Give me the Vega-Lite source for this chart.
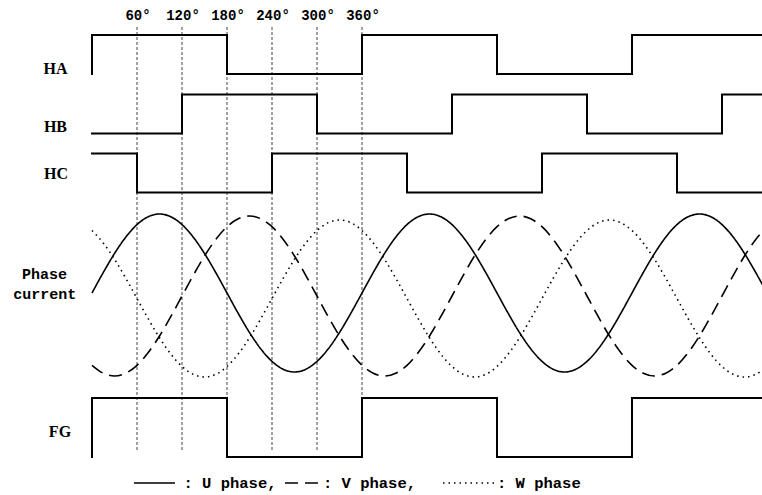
{
  "$schema": "https://vega.github.io/schema/vega-lite/v6.json",
  "width": 762,
  "height": 495,
  "autosize": {"type": "fit", "contains": "padding"},
  "padding": 0,
  "background": "white",
  "config": {"view": {"stroke": null}},
  "datasets": {
    "guides": [
      {"deg": 60, "label": "60°"},
      {"deg": 120, "label": "120°"},
      {"deg": 180, "label": "180°"},
      {"deg": 240, "label": "240°"},
      {"deg": 300, "label": "300°"},
      {"deg": 360, "label": "360°"}
    ],
    "digital": [
      {"signal": "HA", "i": 0, "deg": 0, "value": 84.2},
      {"signal": "HA", "i": 1, "deg": 0, "value": 92},
      {"signal": "HA", "i": 2, "deg": 180, "value": 92},
      {"signal": "HA", "i": 3, "deg": 180, "value": 84.2},
      {"signal": "HA", "i": 4, "deg": 360, "value": 84.2},
      {"signal": "HA", "i": 5, "deg": 360, "value": 92},
      {"signal": "HA", "i": 6, "deg": 540, "value": 92},
      {"signal": "HA", "i": 7, "deg": 540, "value": 84.2},
      {"signal": "HA", "i": 8, "deg": 720, "value": 84.2},
      {"signal": "HA", "i": 9, "deg": 720, "value": 92},
      {"signal": "HA", "i": 10, "deg": 900, "value": 92},
      {"signal": "HB", "i": 0, "deg": 0, "value": 72.3},
      {"signal": "HB", "i": 1, "deg": 120, "value": 72.3},
      {"signal": "HB", "i": 2, "deg": 120, "value": 80.1},
      {"signal": "HB", "i": 3, "deg": 300, "value": 80.1},
      {"signal": "HB", "i": 4, "deg": 300, "value": 72.3},
      {"signal": "HB", "i": 5, "deg": 480, "value": 72.3},
      {"signal": "HB", "i": 6, "deg": 480, "value": 80.1},
      {"signal": "HB", "i": 7, "deg": 660, "value": 80.1},
      {"signal": "HB", "i": 8, "deg": 660, "value": 72.3},
      {"signal": "HB", "i": 9, "deg": 840, "value": 72.3},
      {"signal": "HB", "i": 10, "deg": 840, "value": 80.1},
      {"signal": "HB", "i": 11, "deg": 900, "value": 80.1},
      {"signal": "HC", "i": 0, "deg": 0, "value": 68.3},
      {"signal": "HC", "i": 1, "deg": 60, "value": 68.3},
      {"signal": "HC", "i": 2, "deg": 60, "value": 60.5},
      {"signal": "HC", "i": 3, "deg": 240, "value": 60.5},
      {"signal": "HC", "i": 4, "deg": 240, "value": 68.3},
      {"signal": "HC", "i": 5, "deg": 420, "value": 68.3},
      {"signal": "HC", "i": 6, "deg": 420, "value": 60.5},
      {"signal": "HC", "i": 7, "deg": 600, "value": 60.5},
      {"signal": "HC", "i": 8, "deg": 600, "value": 68.3},
      {"signal": "HC", "i": 9, "deg": 780, "value": 68.3},
      {"signal": "HC", "i": 10, "deg": 780, "value": 60.5},
      {"signal": "HC", "i": 11, "deg": 900, "value": 60.5},
      {"signal": "FG", "i": 0, "deg": 0, "value": 7.6},
      {"signal": "FG", "i": 1, "deg": 0, "value": 19.4},
      {"signal": "FG", "i": 2, "deg": 180, "value": 19.4},
      {"signal": "FG", "i": 3, "deg": 180, "value": 7.6},
      {"signal": "FG", "i": 4, "deg": 360, "value": 7.6},
      {"signal": "FG", "i": 5, "deg": 360, "value": 19.4},
      {"signal": "FG", "i": 6, "deg": 540, "value": 19.4},
      {"signal": "FG", "i": 7, "deg": 540, "value": 7.6},
      {"signal": "FG", "i": 8, "deg": 720, "value": 7.6},
      {"signal": "FG", "i": 9, "deg": 720, "value": 19.4},
      {"signal": "FG", "i": 10, "deg": 900, "value": 19.4}
    ],
    "currents": [
      {"phase": "U", "deg": 0, "value": 40.4}, {"phase": "U", "deg": 15, "value": 44.49}, {"phase": "U", "deg": 30, "value": 48.3}, {"phase": "U", "deg": 45, "value": 51.57}, {"phase": "U", "deg": 60, "value": 54.08}, {"phase": "U", "deg": 75, "value": 55.66}, {"phase": "U", "deg": 90, "value": 56.2}, {"phase": "U", "deg": 105, "value": 55.66}, {"phase": "U", "deg": 120, "value": 54.08}, {"phase": "U", "deg": 135, "value": 51.57}, {"phase": "U", "deg": 150, "value": 48.3}, {"phase": "U", "deg": 165, "value": 44.49},
      {"phase": "U", "deg": 180, "value": 40.4}, {"phase": "U", "deg": 195, "value": 36.31}, {"phase": "U", "deg": 210, "value": 32.5}, {"phase": "U", "deg": 225, "value": 29.23}, {"phase": "U", "deg": 240, "value": 26.72}, {"phase": "U", "deg": 255, "value": 25.14}, {"phase": "U", "deg": 270, "value": 24.6}, {"phase": "U", "deg": 285, "value": 25.14}, {"phase": "U", "deg": 300, "value": 26.72}, {"phase": "U", "deg": 315, "value": 29.23}, {"phase": "U", "deg": 330, "value": 32.5}, {"phase": "U", "deg": 345, "value": 36.31},
      {"phase": "U", "deg": 360, "value": 40.4}, {"phase": "U", "deg": 375, "value": 44.49}, {"phase": "U", "deg": 390, "value": 48.3}, {"phase": "U", "deg": 405, "value": 51.57}, {"phase": "U", "deg": 420, "value": 54.08}, {"phase": "U", "deg": 435, "value": 55.66}, {"phase": "U", "deg": 450, "value": 56.2}, {"phase": "U", "deg": 465, "value": 55.66}, {"phase": "U", "deg": 480, "value": 54.08}, {"phase": "U", "deg": 495, "value": 51.57}, {"phase": "U", "deg": 510, "value": 48.3}, {"phase": "U", "deg": 525, "value": 44.49},
      {"phase": "U", "deg": 540, "value": 40.4}, {"phase": "U", "deg": 555, "value": 36.31}, {"phase": "U", "deg": 570, "value": 32.5}, {"phase": "U", "deg": 585, "value": 29.23}, {"phase": "U", "deg": 600, "value": 26.72}, {"phase": "U", "deg": 615, "value": 25.14}, {"phase": "U", "deg": 630, "value": 24.6}, {"phase": "U", "deg": 645, "value": 25.14}, {"phase": "U", "deg": 660, "value": 26.72}, {"phase": "U", "deg": 675, "value": 29.23}, {"phase": "U", "deg": 690, "value": 32.5}, {"phase": "U", "deg": 705, "value": 36.31},
      {"phase": "U", "deg": 720, "value": 40.4}, {"phase": "U", "deg": 735, "value": 44.49}, {"phase": "U", "deg": 750, "value": 48.3}, {"phase": "U", "deg": 765, "value": 51.57}, {"phase": "U", "deg": 780, "value": 54.08}, {"phase": "U", "deg": 795, "value": 55.66}, {"phase": "U", "deg": 810, "value": 56.2}, {"phase": "U", "deg": 825, "value": 55.66}, {"phase": "U", "deg": 840, "value": 54.08}, {"phase": "U", "deg": 855, "value": 51.57}, {"phase": "U", "deg": 870, "value": 48.3}, {"phase": "U", "deg": 885, "value": 44.49}, {"phase": "U", "deg": 900, "value": 40.4},

      {"phase": "V", "deg": 0, "value": 25.94}, {"phase": "V", "deg": 15, "value": 24.35}, {"phase": "V", "deg": 30, "value": 23.8}, {"phase": "V", "deg": 45, "value": 24.35}, {"phase": "V", "deg": 60, "value": 25.94}, {"phase": "V", "deg": 75, "value": 28.49}, {"phase": "V", "deg": 90, "value": 31.8}, {"phase": "V", "deg": 105, "value": 35.66}, {"phase": "V", "deg": 120, "value": 39.8}, {"phase": "V", "deg": 135, "value": 43.94}, {"phase": "V", "deg": 150, "value": 47.8}, {"phase": "V", "deg": 165, "value": 51.11},
      {"phase": "V", "deg": 180, "value": 53.66}, {"phase": "V", "deg": 195, "value": 55.25}, {"phase": "V", "deg": 210, "value": 55.8}, {"phase": "V", "deg": 225, "value": 55.25}, {"phase": "V", "deg": 240, "value": 53.66}, {"phase": "V", "deg": 255, "value": 51.11}, {"phase": "V", "deg": 270, "value": 47.8}, {"phase": "V", "deg": 285, "value": 43.94}, {"phase": "V", "deg": 300, "value": 39.8}, {"phase": "V", "deg": 315, "value": 35.66}, {"phase": "V", "deg": 330, "value": 31.8}, {"phase": "V", "deg": 345, "value": 28.49},
      {"phase": "V", "deg": 360, "value": 25.94}, {"phase": "V", "deg": 375, "value": 24.35}, {"phase": "V", "deg": 390, "value": 23.8}, {"phase": "V", "deg": 405, "value": 24.35}, {"phase": "V", "deg": 420, "value": 25.94}, {"phase": "V", "deg": 435, "value": 28.49}, {"phase": "V", "deg": 450, "value": 31.8}, {"phase": "V", "deg": 465, "value": 35.66}, {"phase": "V", "deg": 480, "value": 39.8}, {"phase": "V", "deg": 495, "value": 43.94}, {"phase": "V", "deg": 510, "value": 47.8}, {"phase": "V", "deg": 525, "value": 51.11},
      {"phase": "V", "deg": 540, "value": 53.66}, {"phase": "V", "deg": 555, "value": 55.25}, {"phase": "V", "deg": 570, "value": 55.8}, {"phase": "V", "deg": 585, "value": 55.25}, {"phase": "V", "deg": 600, "value": 53.66}, {"phase": "V", "deg": 615, "value": 51.11}, {"phase": "V", "deg": 630, "value": 47.8}, {"phase": "V", "deg": 645, "value": 43.94}, {"phase": "V", "deg": 660, "value": 39.8}, {"phase": "V", "deg": 675, "value": 35.66}, {"phase": "V", "deg": 690, "value": 31.8}, {"phase": "V", "deg": 705, "value": 28.49},
      {"phase": "V", "deg": 720, "value": 25.94}, {"phase": "V", "deg": 735, "value": 24.35}, {"phase": "V", "deg": 750, "value": 23.8}, {"phase": "V", "deg": 765, "value": 24.35}, {"phase": "V", "deg": 780, "value": 25.94}, {"phase": "V", "deg": 795, "value": 28.49}, {"phase": "V", "deg": 810, "value": 31.8}, {"phase": "V", "deg": 825, "value": 35.66}, {"phase": "V", "deg": 840, "value": 39.8}, {"phase": "V", "deg": 855, "value": 43.94}, {"phase": "V", "deg": 870, "value": 47.8}, {"phase": "V", "deg": 885, "value": 51.11}, {"phase": "V", "deg": 900, "value": 53.66},

      {"phase": "W", "deg": 0, "value": 52.9}, {"phase": "W", "deg": 15, "value": 50.4}, {"phase": "W", "deg": 30, "value": 47.15}, {"phase": "W", "deg": 45, "value": 43.36}, {"phase": "W", "deg": 60, "value": 39.3}, {"phase": "W", "deg": 75, "value": 35.24}, {"phase": "W", "deg": 90, "value": 31.45}, {"phase": "W", "deg": 105, "value": 28.2}, {"phase": "W", "deg": 120, "value": 25.7}, {"phase": "W", "deg": 135, "value": 24.13}, {"phase": "W", "deg": 150, "value": 23.6}, {"phase": "W", "deg": 165, "value": 24.13},
      {"phase": "W", "deg": 180, "value": 25.7}, {"phase": "W", "deg": 195, "value": 28.2}, {"phase": "W", "deg": 210, "value": 31.45}, {"phase": "W", "deg": 225, "value": 35.24}, {"phase": "W", "deg": 240, "value": 39.3}, {"phase": "W", "deg": 255, "value": 43.36}, {"phase": "W", "deg": 270, "value": 47.15}, {"phase": "W", "deg": 285, "value": 50.4}, {"phase": "W", "deg": 300, "value": 52.9}, {"phase": "W", "deg": 315, "value": 54.47}, {"phase": "W", "deg": 330, "value": 55.0}, {"phase": "W", "deg": 345, "value": 54.47},
      {"phase": "W", "deg": 360, "value": 52.9}, {"phase": "W", "deg": 375, "value": 50.4}, {"phase": "W", "deg": 390, "value": 47.15}, {"phase": "W", "deg": 405, "value": 43.36}, {"phase": "W", "deg": 420, "value": 39.3}, {"phase": "W", "deg": 435, "value": 35.24}, {"phase": "W", "deg": 450, "value": 31.45}, {"phase": "W", "deg": 465, "value": 28.2}, {"phase": "W", "deg": 480, "value": 25.7}, {"phase": "W", "deg": 495, "value": 24.13}, {"phase": "W", "deg": 510, "value": 23.6}, {"phase": "W", "deg": 525, "value": 24.13},
      {"phase": "W", "deg": 540, "value": 25.7}, {"phase": "W", "deg": 555, "value": 28.2}, {"phase": "W", "deg": 570, "value": 31.45}, {"phase": "W", "deg": 585, "value": 35.24}, {"phase": "W", "deg": 600, "value": 39.3}, {"phase": "W", "deg": 615, "value": 43.36}, {"phase": "W", "deg": 630, "value": 47.15}, {"phase": "W", "deg": 645, "value": 50.4}, {"phase": "W", "deg": 660, "value": 52.9}, {"phase": "W", "deg": 675, "value": 54.47}, {"phase": "W", "deg": 690, "value": 55.0}, {"phase": "W", "deg": 705, "value": 54.47},
      {"phase": "W", "deg": 720, "value": 52.9}, {"phase": "W", "deg": 735, "value": 50.4}, {"phase": "W", "deg": 750, "value": 47.15}, {"phase": "W", "deg": 765, "value": 43.36}, {"phase": "W", "deg": 780, "value": 39.3}, {"phase": "W", "deg": 795, "value": 35.24}, {"phase": "W", "deg": 810, "value": 31.45}, {"phase": "W", "deg": 825, "value": 28.2}, {"phase": "W", "deg": 840, "value": 25.7}, {"phase": "W", "deg": 855, "value": 24.13}, {"phase": "W", "deg": 870, "value": 23.6}, {"phase": "W", "deg": 885, "value": 24.13}, {"phase": "W", "deg": 900, "value": 25.7}
    ],
    "rowLabels": [
      {"label": "HA", "deg": -48.7, "value": 85.3},
      {"label": "HB", "deg": -48.7, "value": 73.7},
      {"label": "HC", "deg": -48.0, "value": 64.3},
      {"label": "FG", "deg": -42.7, "value": 12.7}
    ],
    "phaseLabel": [
      {"label": "Phase", "deg": -63.3, "value": 44.3},
      {"label": "current", "deg": -63.0, "value": 40.3}
    ],
    "legendSamples": [
      {"phase": "U", "from": 56, "to": 110.7},
      {"phase": "V", "from": 257.3, "to": 304},
      {"phase": "W", "from": 468, "to": 537.3}
    ],
    "legendTexts": [
      {"label": ": U phase,", "deg": 122},
      {"label": ": V phase,", "deg": 308},
      {"label": ": W phase", "deg": 540}
    ]
  },
  "layer": [
    {
      "data": {"name": "guides"},
      "mark": {"type": "rule", "color": "#444", "strokeWidth": 1, "strokeDash": [3, 2]},
      "encoding": {
        "x": {"field": "deg", "type": "quantitative", "scale": {"domain": [-122.67, 893.33], "nice": false, "zero": false}, "axis": null},
        "y": {"datum": 93.6, "type": "quantitative", "scale": {"domain": [0, 99], "nice": false, "zero": false}, "axis": null},
        "y2": {"datum": 8.8}
      }
    },
    {
      "data": {"name": "guides"},
      "mark": {"type": "text", "font": "Liberation Mono", "fontWeight": "bold", "fontSize": 14, "color": "black", "baseline": "middle", "align": "center", "dx": 1},
      "encoding": {
        "x": {"field": "deg", "type": "quantitative", "scale": {"domain": [-122.67, 893.33], "nice": false, "zero": false}, "axis": null},
        "y": {"datum": 95.9, "type": "quantitative", "scale": {"domain": [0, 99], "nice": false, "zero": false}, "axis": null},
        "text": {"field": "label"}
      }
    },
    {
      "data": {"name": "digital"},
      "mark": {"type": "line", "color": "black", "strokeWidth": 2, "clip": true, "strokeJoin": "miter", "strokeCap": "square"},
      "encoding": {
        "x": {"field": "deg", "type": "quantitative", "scale": {"domain": [-122.67, 893.33], "nice": false, "zero": false}, "axis": null},
        "y": {"field": "value", "type": "quantitative", "scale": {"domain": [0, 99], "nice": false, "zero": false}, "axis": null},
        "detail": {"field": "signal"},
        "order": {"field": "i", "type": "quantitative"}
      }
    },
    {
      "data": {"name": "currents"},
      "mark": {"type": "line", "color": "black", "strokeWidth": 1.6, "clip": true, "interpolate": "monotone"},
      "encoding": {
        "x": {"field": "deg", "type": "quantitative", "scale": {"domain": [-122.67, 893.33], "nice": false, "zero": false}, "axis": null},
        "y": {"field": "value", "type": "quantitative", "scale": {"domain": [0, 99], "nice": false, "zero": false}, "axis": null},
        "strokeDash": {"field": "phase", "type": "nominal", "scale": {"domain": ["U", "V", "W"], "range": [[1, 0], [13, 7], [1.5, 4]]}, "legend": null}
      }
    },
    {
      "data": {"name": "legendSamples"},
      "mark": {"type": "rule", "color": "black", "strokeWidth": 1.6},
      "encoding": {
        "x": {"field": "from", "type": "quantitative", "scale": {"domain": [-122.67, 893.33], "nice": false, "zero": false}, "axis": null},
        "x2": {"field": "to"},
        "y": {"datum": 2.4, "type": "quantitative", "scale": {"domain": [0, 99], "nice": false, "zero": false}, "axis": null},
        "strokeDash": {"field": "phase", "type": "nominal", "scale": {"domain": ["U", "V", "W"], "range": [[1, 0], [13, 7], [1.5, 4]]}, "legend": null}
      }
    },
    {
      "data": {"name": "legendTexts"},
      "mark": {"type": "text", "font": "Liberation Mono", "fontWeight": "bold", "fontSize": 15.5, "color": "black", "baseline": "middle", "align": "left"},
      "encoding": {
        "x": {"field": "deg", "type": "quantitative", "scale": {"domain": [-122.67, 893.33], "nice": false, "zero": false}, "axis": null},
        "y": {"datum": 2.4, "type": "quantitative", "scale": {"domain": [0, 99], "nice": false, "zero": false}, "axis": null},
        "text": {"field": "label"}
      }
    },
    {
      "data": {"name": "rowLabels"},
      "mark": {"type": "text", "font": "Liberation Serif", "fontWeight": "bold", "fontSize": 16, "color": "black", "baseline": "middle", "align": "center"},
      "encoding": {
        "x": {"field": "deg", "type": "quantitative", "scale": {"domain": [-122.67, 893.33], "nice": false, "zero": false}, "axis": null},
        "y": {"field": "value", "type": "quantitative", "scale": {"domain": [0, 99], "nice": false, "zero": false}, "axis": null},
        "text": {"field": "label"}
      }
    },
    {
      "data": {"name": "phaseLabel"},
      "mark": {"type": "text", "font": "Liberation Mono", "fontWeight": "bold", "fontSize": 15, "color": "black", "baseline": "middle", "align": "center"},
      "encoding": {
        "x": {"field": "deg", "type": "quantitative", "scale": {"domain": [-122.67, 893.33], "nice": false, "zero": false}, "axis": null},
        "y": {"field": "value", "type": "quantitative", "scale": {"domain": [0, 99], "nice": false, "zero": false}, "axis": null},
        "text": {"field": "label"}
      }
    }
  ]
}
